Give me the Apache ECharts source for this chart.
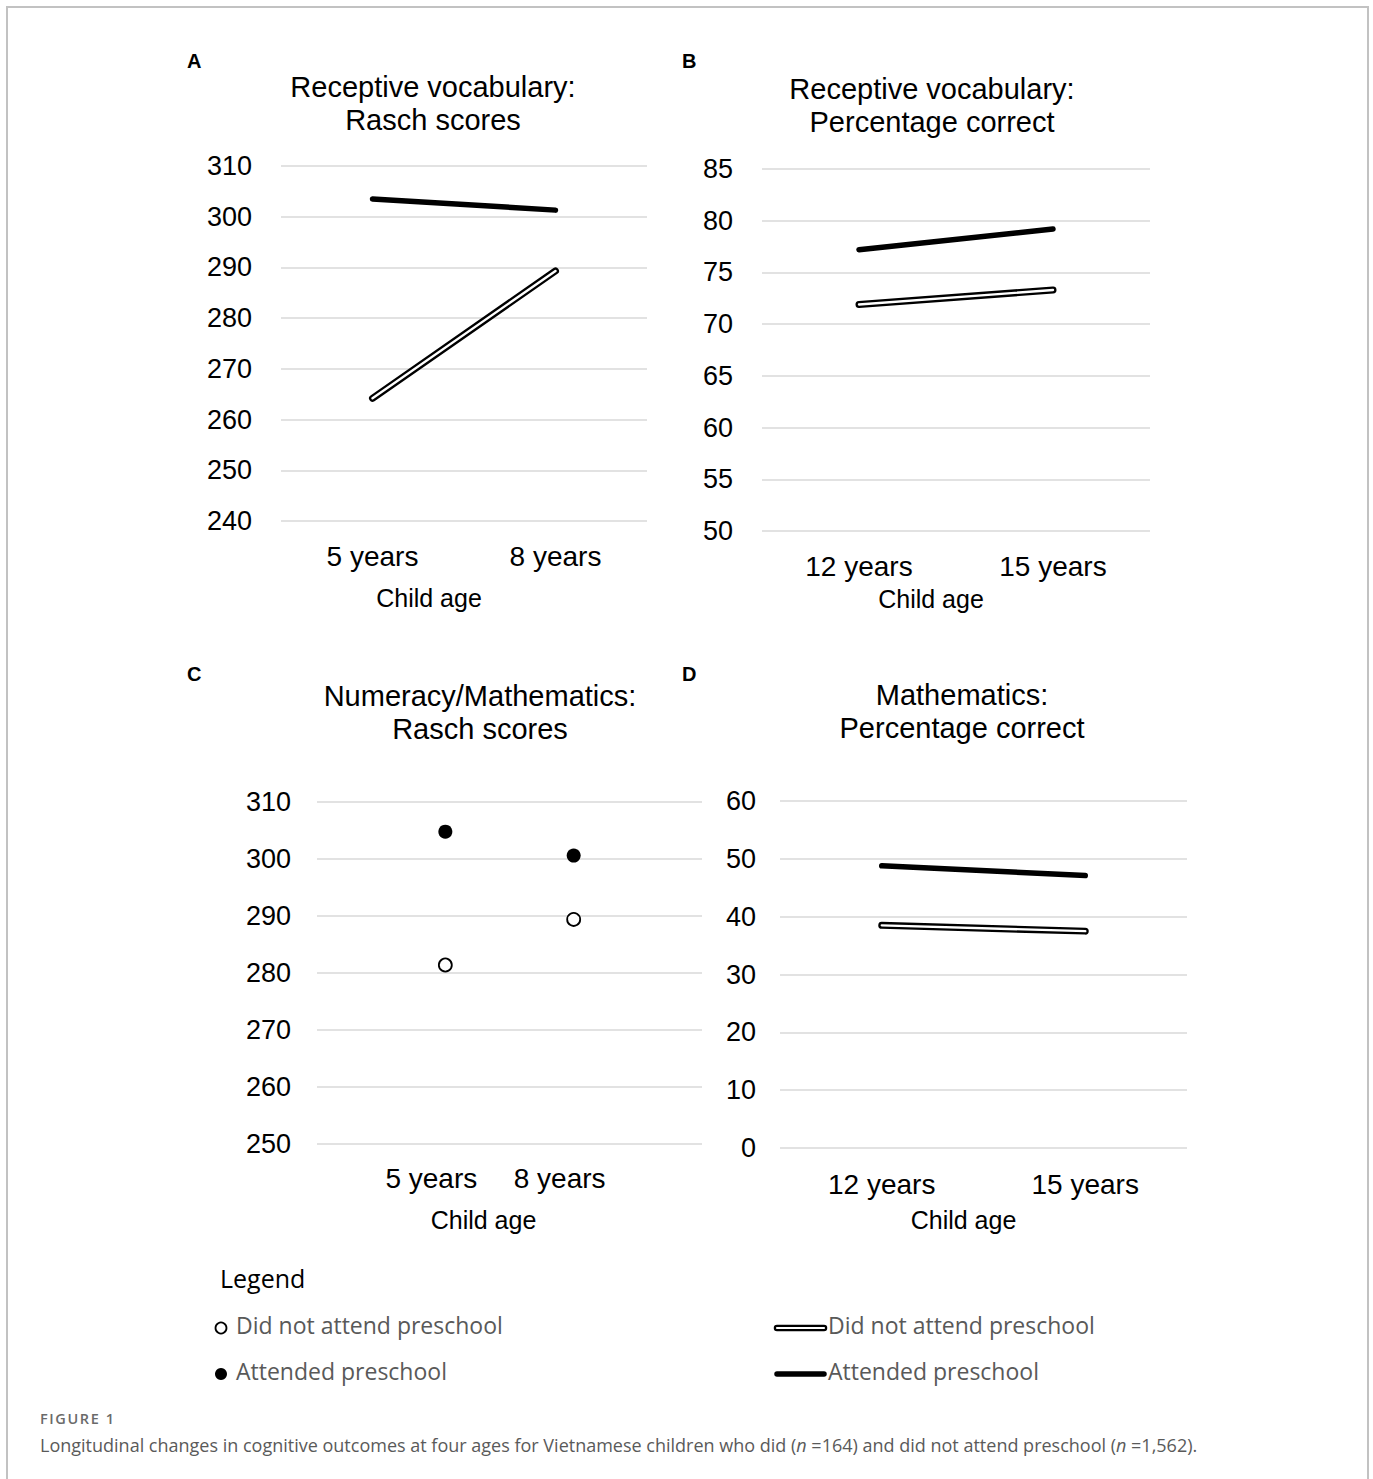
<!DOCTYPE html>
<html>
<head>
<meta charset="utf-8">
<script src="https://cdn.jsdelivr.net/npm/echarts@6/dist/echarts.min.js"></script>
<style>
  html, body { margin: 0; padding: 0; background: #fff; }
  #frame {
    position: absolute; left: 6px; top: 6px; width: 1359px; height: 1480px;
    border: 2px solid #c2c2c2; border-bottom: none;
  }
  #chart { position: absolute; left: 0; top: 0; width: 1373px; height: 1479px; }
  .fig-label {
    position: absolute; left: 40px; top: 1409px; letter-spacing: 1.6px;
    font-family: "Open Sans", sans-serif; font-size: 14.5px; font-weight: 600; color: #6a6a6a;
  }
  .fig-caption {
    position: absolute; left: 40px; top: 1433px;
    font-family: "Open Sans", sans-serif; font-size: 18px; color: #5a5a5a;
  }
</style>
</head>
<body>
<div id="frame"></div>
<div id="chart"></div>
<div class="fig-label">FIGURE 1</div>
<div class="fig-caption">Longitudinal changes in cognitive outcomes at four ages for Vietnamese children who did (<i>n</i> =164) and did not attend preschool (<i>n</i> =1,562).</div>
<script>
// categories
const agesYoung = ['5 years', '8 years'];
const agesYoungPadded = ['', '5 years', '8 years', ''];
const agesOld = ['12 years', '15 years'];

// A: receptive vocabulary, Rasch scores
const vocabRaschAttended = [303.5, 301.3];
const vocabRaschNotAttended = [264.2, 289.3];
// B: receptive vocabulary, percentage correct
const vocabPctAttended = [77.2, 79.2];
const vocabPctNotAttended = [71.9, 73.3];
// C: numeracy/mathematics, Rasch scores
const mathRaschAttended = [304.8, 300.6];
const mathRaschNotAttended = [281.4, 289.4];
// D: mathematics, percentage correct
const mathPctAttended = [48.8, 47.1];
const mathPctNotAttended = [38.5, 37.5];

const ATT = 'Attended preschool';
const NOT = 'Did not attend preschool';
const FONT = '"Liberation Sans", Arial, sans-serif';
const LEG_FONT = '"Open Sans", sans-serif';

const chart = echarts.init(document.getElementById('chart'), null, { renderer: 'svg' });

function xAx(idx, cats, labelMargin, nameGap, nameShift, extra, labelShift) {
    return Object.assign({
        type: 'category',
        gridIndex: idx,
        data: cats,
        axisLine: { show: false },
        axisTick: { show: false },
        axisLabel: { color: '#000', fontSize: 28, fontFamily: FONT, margin: labelMargin, interval: 0,
                     padding: [0, (labelShift || 0) * 2, 0, 0] },
        name: 'Child age',
        nameLocation: 'middle',
        nameGap: nameGap,
        nameTextStyle: { color: '#000', fontSize: 25, fontFamily: FONT, padding: [0, nameShift * 2, 0, 0] }
    }, extra || {});
}

function yAx(idx, min, max, step, margin) {
    return {
        type: 'value',
        gridIndex: idx,
        min: min, max: max, interval: step,
        axisLine: { show: false },
        axisTick: { show: false },
        axisLabel: { color: '#000', fontSize: 27, fontFamily: FONT, margin: margin },
        splitLine: { lineStyle: { color: '#d9d9d9', width: 1.5 } }
    };
}

// hollow line = thick black stroke with a thin white stroke on top
function hollowLine(idx, cats, vals) {
    const pts = cats.map((c, i) => [c, vals[i]]);
    return [
        { name: NOT, type: 'line', xAxisIndex: idx, yAxisIndex: idx, data: pts, symbol: 'none',
          lineStyle: { color: '#000', width: 7, cap: 'round' }, z: 3 },
        { name: NOT, type: 'line', xAxisIndex: idx, yAxisIndex: idx, data: pts, symbol: 'none',
          lineStyle: { color: '#fff', width: 2.4, cap: 'round' }, z: 4 }
    ];
}
function solidLine(idx, cats, vals) {
    return { name: ATT, type: 'line', xAxisIndex: idx, yAxisIndex: idx,
             data: cats.map((c, i) => [c, vals[i]]), symbol: 'none',
             lineStyle: { color: '#000', width: 5.5, cap: 'round' }, z: 3 };
}

function panelTitle(text, x, top) {
    return { text: text, left: x, top: top, textAlign: 'center',
             textStyle: { color: '#000', fontSize: 29, fontWeight: 'normal', fontFamily: FONT, lineHeight: 33 } };
}
function letter(t, x, y) {
    return { type: 'text', left: x, top: y,
             style: { text: t, fill: '#000', fontSize: 20, fontWeight: 'bold', fontFamily: FONT } };
}

const cScatter = agesYoungPadded.slice(1, 3);

const option = {
    animation: false,
    title: [
        panelTitle('Receptive vocabulary:\nRasch scores', 428, 65),
        panelTitle('Receptive vocabulary:\nPercentage correct', 927, 67),
        panelTitle('Numeracy/Mathematics:\nRasch scores', 475, 674),
        panelTitle('Mathematics:\nPercentage correct', 957, 673)
    ],
    grid: [
        { left: 281, top: 166, width: 366, height: 355 },
        { left: 762, top: 169, width: 388, height: 362 },
        { left: 317, top: 802, width: 385, height: 342 },
        { left: 780, top: 801, width: 407, height: 347 }
    ],
    xAxis: [
        xAx(0, agesYoung, 21, 64, 35),
        xAx(1, agesOld, 21, 55, 25),
        xAx(2, agesYoungPadded, 20, 63, 26, { boundaryGap: false }, 14),
        xAx(3, agesOld, 22, 59, 20)
    ],
    yAxis: [
        yAx(0, 240, 310, 10, 29),
        yAx(1, 50, 85, 5, 29),
        yAx(2, 250, 310, 10, 26),
        yAx(3, 0, 60, 10, 24)
    ],
    series: [
        ...hollowLine(0, agesYoung, vocabRaschNotAttended),
        solidLine(0, agesYoung, vocabRaschAttended),
        ...hollowLine(1, agesOld, vocabPctNotAttended),
        solidLine(1, agesOld, vocabPctAttended),
        { name: NOT, type: 'scatter', xAxisIndex: 2, yAxisIndex: 2, symbolSize: 13,
          data: cScatter.map((c, i) => [c, mathRaschNotAttended[i]]),
          itemStyle: { color: '#fff', borderColor: '#000', borderWidth: 1.8, opacity: 1 } },
        { name: ATT, type: 'scatter', xAxisIndex: 2, yAxisIndex: 2, symbolSize: 14,
          data: cScatter.map((c, i) => [c, mathRaschAttended[i]]),
          itemStyle: { color: '#000', opacity: 1 } },
        ...hollowLine(3, agesOld, mathPctNotAttended),
        solidLine(3, agesOld, mathPctAttended)
    ],
    graphic: [
        letter('A', 187, 51),
        letter('B', 682, 51),
        letter('C', 187, 664),
        letter('D', 682, 664),
        // legend block
        { type: 'text', left: 220, top: 1265, style: { text: 'Legend', fill: '#000', font: '25px ' + LEG_FONT } },
        { type: 'circle', shape: { cx: 221, cy: 1328, r: 5.5 }, style: { fill: '#fff', stroke: '#000', lineWidth: 1.8 } },
        { type: 'circle', shape: { cx: 221, cy: 1374, r: 6 }, style: { fill: '#000' } },
        { type: 'text', left: 236, top: 1313, style: { text: NOT, fill: '#595959', font: '23px ' + LEG_FONT } },
        { type: 'text', left: 236, top: 1359, style: { text: ATT, fill: '#595959', font: '23px ' + LEG_FONT } },
        { type: 'line', shape: { x1: 777, y1: 1328, x2: 824, y2: 1328 }, style: { stroke: '#000', lineWidth: 6.5, lineCap: 'round' } },
        { type: 'line', shape: { x1: 777, y1: 1328, x2: 824, y2: 1328 }, style: { stroke: '#fff', lineWidth: 2.2, lineCap: 'round' } },
        { type: 'line', shape: { x1: 777, y1: 1374, x2: 824, y2: 1374 }, style: { stroke: '#000', lineWidth: 5.5, lineCap: 'round' } },
        { type: 'text', left: 828, top: 1313, style: { text: NOT, fill: '#595959', font: '23px ' + LEG_FONT } },
        { type: 'text', left: 828, top: 1359, style: { text: ATT, fill: '#595959', font: '23px ' + LEG_FONT } }
    ]
};

chart.setOption(option);
</script>
</body>
</html>
